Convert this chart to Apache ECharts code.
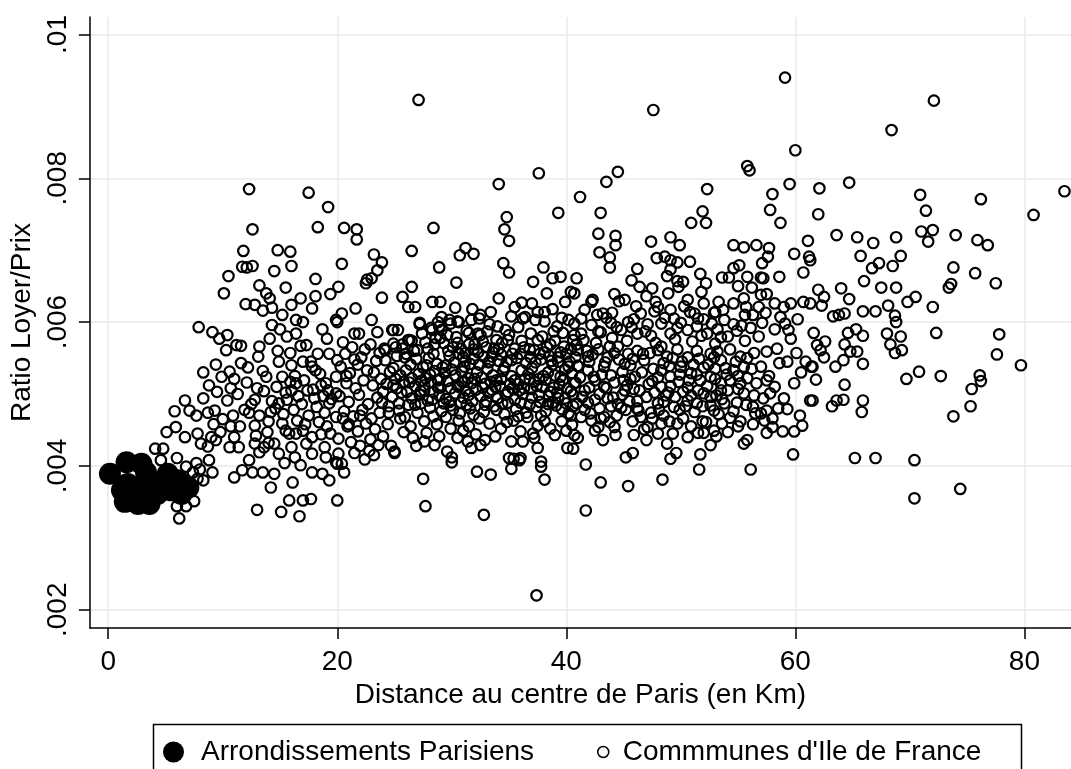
<!DOCTYPE html>
<html>
<head>
<meta charset="utf-8">
<script src="https://cdn.jsdelivr.net/npm/echarts@6/dist/echarts.min.js"></script>
<style>
  html, body { margin: 0; padding: 0; background: #fff; }
  #chart { width: 1071px; height: 769px; }
</style>
</head>
<body>
<div id="chart"></div>
<script>
// ticks
const xTicks = [0, 20, 40, 60, 80];
const yTicks = [.002, .004, .006, .008, .01];

// arrondissements de Paris : [distance km, ratio loyer/prix]
const parisPoints = [
  [0.15,.00389],[1.6,.00405],[2.9,.00403],[1.45,.00350],[2.6,.00347],[3.6,.00347],[1.7,.00375],
  [2.6,.00370],[3.6,.00373],[4.6,.00377],[5.2,.00382],[6.1,.00380],[7.0,.00370],[5.5,.00366],
  [6.4,.00361],[4.3,.00361],[2.0,.00361],[5.2,.00389],[3.3,.00391],[1.2,.00366]
];

// communes d'Ile de France : [distance km, ratio loyer/prix]
const communesPoints = [
  // grandes distances
  [62.1,.00786],[64.7,.00794],[62.0,.00750],[70.9,.00777],[71.4,.00755],[76.2,.00771],[80.8,.00749],[83.5,.00782],
  [63.6,.00721],[65.4,.00718],[66.8,.00710],[68.8,.00718],[71.0,.00726],[72.0,.00728],[71.6,.00712],[74.0,.00721],[75.9,.00714],[76.8,.00707],
  [65.7,.00692],[67.3,.00682],[66.7,.00675],[68.5,.00678],[69.2,.00692],[73.8,.00676],[75.7,.00668],[77.5,.00654],[73.6,.00653],[73.4,.00648],
  [66.0,.00657],[67.5,.00648],[68.8,.00648],[64.0,.00647],[64.7,.00632],[62.0,.00645],[62.5,.00635],[62.3,.00623],[68.1,.00623],[69.8,.00628],[70.5,.00635],[72.0,.00621],
  [65.9,.00615],[67.0,.00615],[63.3,.00608],[63.8,.00610],[64.3,.00612],[68.7,.00609],[68.8,.00600],[72.3,.00585],[77.8,.00583],[77.6,.00555],[79.7,.00540],
  [61.6,.00585],[62.6,.00573],[61.9,.00568],[62.2,.00561],[62.5,.00551],[61.5,.00538],[64.6,.00585],[65.3,.00590],[65.9,.00581],[64.3,.00569],[64.8,.00559],[65.4,.00559],[64.2,.00547],[63.5,.00538],[65.9,.00542],
  [68.0,.00584],[69.2,.00580],[68.3,.00569],[68.7,.00557],[69.3,.00561],[64.3,.00513],[61.5,.00491],[63.2,.00483],[63.6,.00491],[64.2,.00492],[65.9,.00491],[65.8,.00475],
  [69.7,.00521],[70.8,.00531],[72.7,.00525],[76.1,.00526],[76.2,.00518],[75.4,.00507],[75.3,.00483],[73.8,.00469],
  [65.2,.00411],[67.0,.00411],[70.4,.00408],[70.4,.00355],[74.4,.00368],
  // points isoles
  [27.1,.00909],[47.6,.00895],[59.1,.00940],[68.4,.00867],[72.1,.00908],[37.4,.00220],
  // 40 - 62 km
  [60.0,.00839],[55.8,.00817],[56.0,.00811],[44.5,.00809],[43.5,.00795],[41.2,.00774],[52.3,.00785],[59.5,.00792],[58.0,.00778],[57.8,.00756],[58.7,.00738],
  [43.0,.00752],[51.9,.00754],[50.9,.00738],[52.2,.00738],[42.8,.00723],[44.3,.00720],[44.3,.00707],[47.4,.00712],[49.1,.00718],[49.9,.00707],
  [42.9,.00697],[43.8,.00690],[43.8,.00676],[46.2,.00674],[47.9,.00689],[48.6,.00691],[49.1,.00686],[49.7,.00683],[50.8,.00684],
  [48.8,.00664],[49.1,.00673],[49.7,.00657],[49.8,.00649],[51.7,.00667],[52.2,.00654],
  [54.6,.00707],[55.5,.00704],[56.6,.00707],[57.7,.00703],[57.6,.00691],[57.1,.00682],[55.1,.00679],[54.6,.00675],[53.6,.00662],[54.2,.00662],
  [55.8,.00663],[57.0,.00662],[57.2,.00661],[58.6,.00663],[59.9,.00695],[61.1,.00713],[61.2,.00691],[61.3,.00686],[60.7,.00669],
  [56.2,.00648],[57.0,.00638],[57.5,.00639],
  [40.9,.00661],[40.7,.00640],[42.3,.00631],[44.2,.00639],[45.1,.00631],[46.4,.00649],[47.5,.00647],[47.8,.00628],
  [52.0,.00626],[53.0,.00614],[54.6,.00626],[55.5,.00633],[55.7,.00621],[56.3,.00610],[57.4,.00613],
  [59.0,.00621],[59.6,.00626],[60.7,.00628],[61.3,.00626],[58.7,.00607],[59.1,.00598],[59.4,.00589],[59.6,.00577],
  [56.8,.00580],[56.4,.00557],[57.5,.00559],[58.4,.00563],[59.3,.00545],[60.1,.00557],[60.9,.00545],[61.4,.00538],
  [56.2,.00535],[55.8,.00522],[57.0,.00538],[57.5,.00519],[57.7,.00525],[56.4,.00498],[56.3,.00482],[56.5,.00473],[57.5,.00477],[57.0,.00473],
  [59.9,.00515],[59.0,.00494],[61.3,.00491],[57.5,.00446],[59.9,.00448],[59.8,.00416],[56.1,.00395],[55.5,.00431],[55.8,.00436],
  [51.6,.00395],[51.7,.00416],[52.6,.00429],[53.6,.00459],[52.9,.00449],[51.5,.00446],[52.0,.00446],[52.2,.00461],
  [48.4,.00381],[45.4,.00372],[43.0,.00377],[41.7,.00402],[41.7,.00338],
  [45.2,.00412],[45.8,.00418],[48.8,.00431],[49.1,.00410],[49.6,.00418],[49.7,.00459],[48.3,.00459],[47.0,.00436],[47.1,.00454],[47.5,.00466],
  [44.3,.00443],[43.2,.00436],[42.5,.00449],[40.7,.00443],[40.6,.00424],[43.8,.00461],[43.3,.00468],[46.2,.00480],[46.5,.00468],
  [41.6,.00617],[42.2,.00628],[43.2,.00612],
  [40.7,.00598],[41.3,.00584],[42.2,.00596],[43.0,.00586],[43.9,.00599],[44.8,.00589],[45.7,.00593],[46.5,.00612],[47.1,.00597],[46.2,.00584],[47.4,.00581],
  [41.0,.00561],[41.9,.00552],[42.8,.00562],[43.6,.00551],[44.5,.00566],[45.4,.00556],[46.2,.00560],[46.8,.00547],[45.1,.00542],[43.3,.00538],[41.9,.00533],[41.0,.00539],
  [40.7,.00515],[41.6,.00505],[42.5,.00519],[43.3,.00510],[44.2,.00516],[45.1,.00505],[45.9,.00507],[40.9,.00487],[41.9,.00488],[42.9,.00480],[43.9,.00483],[44.8,.00481],
  [44.2,.00454],[42.8,.00454],[42.2,.00463],[40.4,.00470],[41.3,.00468],
  [48.0,.00621],[49.1,.00617],[50.3,.00622],[51.2,.00612],[52.0,.00604],[52.9,.00613],[53.8,.00603],[54.6,.00597],[48.3,.00598],[49.1,.00584],[50.0,.00599],[50.6,.00589],[51.4,.00594],[52.3,.00584],[53.2,.00590],[54.1,.00580],[54.9,.00588],
  [48.0,.00561],[48.8,.00552],[49.7,.00562],[50.6,.00551],[51.4,.00560],[52.6,.00556],[53.5,.00547],[54.3,.00562],[55.2,.00552],[48.3,.00533],[49.1,.00524],[50.0,.00538],[50.9,.00529],[51.7,.00519],[52.6,.00524],[53.5,.00515],[54.3,.00519],[48.3,.00510],[49.1,.00511],
  [48.0,.00487],[49.4,.00482],[50.6,.00491],[51.4,.00487],[52.6,.00496],[53.8,.00487],[54.9,.00488],[52.9,.00477],[54.1,.00505],[55.2,.00515],
  [41.5,.00575],[42.6,.00571],[44.0,.00578],[45.3,.00574],[47.8,.00571],[49.5,.00576],[51.0,.00573],[53.0,.00570],[55.6,.00574],[42.0,.00545],[44.9,.00531],[46.0,.00524],[47.6,.00535],[53.0,.00535],[55.5,.00538],[58.6,.00543],
  [41.4,.00496],[43.6,.00494],[45.5,.00490],[47.0,.00496],[48.7,.00498],[50.2,.00503],[52.0,.00501],[53.1,.00498],[55.0,.00507],[58.2,.00510],[60.5,.00530],[61.8,.00520],
  [42.1,.00473],[44.4,.00470],[45.8,.00462],[48.5,.00470],[50.2,.00466],[51.2,.00475],[53.3,.00472],[55.2,.00462],[58.5,.00480],[60.4,.00470],[49.3,.00445],[50.6,.00440],[54.1,.00447],[55.0,.00455],[58.0,.00454],
  [41.8,.00560],[42.4,.00524],[43.1,.00527],[43.8,.00566],[44.6,.00548],[45.6,.00540],[46.6,.00530],[47.3,.00557],[48.5,.00543],[49.3,.00550],[50.1,.00545],[51.1,.00541],[52.0,.00537],[52.9,.00551],[53.9,.00536],[54.8,.00545],[55.8,.00550],
  [41.2,.00523],[42.0,.00509],[42.9,.00500],[43.9,.00526],[44.9,.00499],[45.6,.00521],[46.4,.00505],[47.2,.00514],[48.0,.00523],[48.9,.00502],[49.8,.00517],[50.6,.00509],[51.4,.00527],[52.3,.00511],[53.0,.00521],[54.6,.00533],[55.5,.00501],[56.6,.00515],[57.8,.00501],
  [41.6,.00478],[43.0,.00466],[44.1,.00495],[45.2,.00478],[46.2,.00490],[47.4,.00474],[48.1,.00478],[49.9,.00478],[50.9,.00498],[51.9,.00483],[53.6,.00493],[54.6,.00476],[55.7,.00485],[57.2,.00494],[58.0,.00466],[59.3,.00479],
  [41.3,.00605],[42.8,.00587],[43.5,.00606],[44.4,.00593],[45.4,.00600],[46.9,.00587],[48.6,.00606],[49.7,.00592],[50.8,.00614],[51.8,.00581],[52.7,.00598],[53.5,.00579],[55.3,.00595],[56.1,.00592],[57.1,.00599],[58.2,.00590],[60.2,.00604],
  [45.9,.00443],[46.8,.00451],[48.0,.00445],[49.0,.00462],[50.9,.00455],[51.9,.00462],[53.1,.00441],[54.3,.00467],[56.3,.00458],[57.3,.00463],[58.9,.00448],[60.6,.00456],
  [44.6,.00629],[46.1,.00622],[47.0,.00636],[48.9,.00640],[50.6,.00631],[51.8,.00642],[53.3,.00628],[56.8,.00621],[58.2,.00626],[55.0,.00650],[50.2,.00656],[45.7,.00658],
  [42.3,.00555],[43.4,.00544],[44.2,.00557],[45.0,.00519],[45.8,.00549],[46.7,.00556],[47.5,.00518],[48.3,.00566],[49.0,.00539],[49.9,.00527],[50.7,.00519],[51.6,.00549],[52.4,.00541],[53.2,.00559],[54.0,.00527],[55.0,.00525],
  [42.5,.00492],[43.5,.00508],[44.5,.00486],[45.3,.00512],[46.3,.00477],[47.7,.00502],[48.5,.00489],[49.5,.00496],[50.4,.00483],[51.5,.00505],[52.6,.00484],[53.5,.00505],
  [42.7,.00610],[44.0,.00613],[45.9,.00604],[47.7,.00615],[49.4,.00605],[51.5,.00605],[53.7,.00617],[55.6,.00610],
  // 20 - 41 km
  [37.6,.00807],[34.1,.00792],[39.3,.00752],[34.8,.00746],[34.6,.00729],[35.0,.00713],[20.6,.00731],[21.7,.00729],[21.7,.00715],[28.4,.00731],[26.5,.00699],
  [31.2,.00703],[30.7,.00693],[31.9,.00695],[23.2,.00694],[23.9,.00683],[23.5,.00672],[23.0,.00661],[22.5,.00654],[22.6,.00659],[20.4,.00681],[28.9,.00676],[30.4,.00655],
  [34.5,.00682],[35.0,.00669],[38.0,.00676],[37.1,.00656],[38.8,.00661],[39.5,.00663],[38.3,.00640],[40.4,.00642],[39.9,.00628],
  [20.1,.00649],[26.5,.00649],[25.7,.00635],[26.2,.00621],[26.8,.00621],[23.9,.00634],[28.3,.00628],[29.0,.00628],
  [34.1,.00633],[35.5,.00621],[36.1,.00627],[37.0,.00626],[36.4,.00607],[37.5,.00614],[38.1,.00614],
  [20.4,.00612],[20.0,.00600],[21.6,.00619],[23.0,.00603],[23.5,.00586],[24.9,.00589],[21.5,.00584],[21.9,.00584],[20.7,.00556],[20.0,.00547],
  [27.2,.00597],[28.3,.00589],[28.8,.00600],[29.1,.00607],[29.9,.00598],[30.6,.00600],[32.5,.00610],[32.3,.00584],[29.1,.00589],
  [26.5,.00574],[24.9,.00570],[24.2,.00561],[25.7,.00563],
  [20.1,.00417],[19.9,.00405],[20.4,.00403],[20.6,.00391],[23.2,.00415],[25.0,.00418],[27.5,.00382],[27.7,.00344],[30.0,.00412],[30.0,.00405],
  [32.2,.00392],[33.4,.00388],[32.8,.00332],[35.4,.00410],[35.2,.00396],[35.9,.00408],[37.8,.00399],[38.1,.00381],[20.0,.00352],
  [27.2,.00599],[28.2,.00592],[28.9,.00594],[29.8,.00603],[30.5,.00601],[31.7,.00603],[32.4,.00605],[24.8,.00589],[26.3,.00575],[33.1,.00587],[34.0,.00594],
  [35.0,.00582],[36.2,.00605],[37.3,.00603],[38.1,.00601],[38.9,.00587],[39.7,.00585],[40.2,.00603],[40.7,.00582],[32.5,.00582],[33.9,.00575],
  [24.1,.00563],[25.1,.00565],[25.7,.00569],[26.7,.00560],[27.9,.00563],[28.5,.00569],[29.3,.00571],[30.1,.00565],[30.8,.00563],[31.5,.00569],[32.3,.00558],
  [33.0,.00565],[33.7,.00563],[34.4,.00571],[35.5,.00563],[36.3,.00565],[37.2,.00561],[38.1,.00558],[38.6,.00569],[39.5,.00558],[40.4,.00563],[40.9,.00569],
  [24.2,.00547],[24.9,.00536],[25.9,.00551],[26.4,.00541],[27.5,.00537],[28.0,.00550],[28.7,.00542],[29.8,.00553],[30.2,.00544],[31.1,.00538],[31.9,.00549],
  [32.4,.00541],[33.5,.00552],[34.1,.00546],[34.6,.00537],[35.7,.00550],[36.5,.00543],[37.0,.00536],[37.8,.00548],[38.8,.00541],[39.3,.00551],[40.3,.00545],[41.0,.00539],
  [24.6,.00531],[25.5,.00526],[26.0,.00533],[27.1,.00528],[27.7,.00522],[28.5,.00532],[29.4,.00529],[30.0,.00534],[30.9,.00531],[31.4,.00522],[32.2,.00530],
  [33.1,.00535],[33.6,.00526],[34.5,.00532],[35.2,.00525],[36.1,.00533],[36.7,.00528],[37.6,.00521],[38.4,.00530],[39.0,.00526],[39.9,.00534],[40.5,.00529],
  [24.3,.00514],[25.2,.00508],[25.8,.00517],[26.8,.00511],[27.3,.00504],[28.2,.00516],[28.8,.00509],[29.6,.00518],[30.5,.00512],[31.2,.00505],[31.7,.00515],
  [32.7,.00509],[33.4,.00517],[34.2,.00511],[34.9,.00503],[35.8,.00514],[36.3,.00508],[37.2,.00517],[37.9,.00510],[38.6,.00503],[39.4,.00513],[40.1,.00508],[40.8,.00516],
  [24.8,.00496],[25.6,.00502],[26.5,.00494],[27.2,.00499],[27.9,.00491],[28.9,.00498],[29.5,.00493],[30.3,.00501],[31.0,.00495],[31.8,.00490],[32.5,.00497],
  [33.2,.00502],[34.0,.00494],[34.7,.00499],[35.5,.00492],[36.2,.00500],[37.0,.00495],[37.7,.00489],[38.5,.00497],[39.2,.00502],[39.9,.00494],[40.6,.00499],
  [24.5,.00483],[25.4,.00477],[26.2,.00485],[27.0,.00474],[28.1,.00481],[29.1,.00476],[29.9,.00484],[30.7,.00473],[31.6,.00480],[32.8,.00475],[33.7,.00483],
  [34.6,.00472],[35.6,.00479],[36.5,.00474],[37.4,.00482],[38.2,.00476],[39.1,.00484],[40.2,.00473],
  [24.4,.00458],[25.5,.00466],[26.4,.00455],[27.6,.00462],[28.7,.00458],[29.5,.00468],[30.6,.00463],[31.5,.00455],[32.4,.00466],[33.3,.00459],[34.3,.00452],
  [35.4,.00463],[36.6,.00468],[37.5,.00456],[38.6,.00452],[39.6,.00462],[40.5,.00457],
  [25.0,.00420],[26.6,.00439],[27.6,.00434],[28.5,.00429],[29.6,.00420],[30.5,.00439],[31.4,.00434],[31.7,.00425],[32.5,.00429],[32.9,.00436],
  [35.2,.00434],[36.2,.00434],[37.2,.00439],[37.5,.00425],[35.0,.00411],[36.0,.00411],[37.8,.00406],[40.1,.00425],[41.0,.00439],
  [20.3,.00538],[21.1,.00529],[21.8,.00541],[22.6,.00533],[23.4,.00546],[20.8,.00515],[21.6,.00508],[22.3,.00519],[23.1,.00512],[23.8,.00521],
  [20.2,.00497],[21.0,.00489],[21.9,.00499],[22.7,.00486],[23.5,.00495],[20.6,.00476],[21.4,.00469],[22.2,.00478],[23.0,.00466],[23.7,.00474],
  [20.9,.00455],[21.8,.00448],[22.5,.00459],[23.3,.00451],[21.2,.00433],[22.0,.00428],[22.9,.00437],[23.6,.00429],[21.5,.00418],[22.4,.00409],
  [20.5,.00572],[21.3,.00565],[22.1,.00551],[22.9,.00569],[23.7,.00557],[21.0,.00458],[22.8,.00421],[24.0,.00441],[24.7,.00428],[25.8,.00447],[26.9,.00428],[27.8,.00446],[28.9,.00441],[29.9,.00452],
  [25.3,.00589],[26.0,.00556],[27.4,.00584],[28.6,.00578],[29.6,.00582],[30.4,.00579],[31.3,.00588],[25.1,.00521],[26.3,.00516],[27.6,.00512],[28.4,.00503],[29.0,.00521],[29.9,.00508],
  [24.5,.00474],[25.9,.00468],[27.3,.00487],[28.4,.00469],[29.3,.00487],[30.1,.00478],[26.1,.00503],[27.8,.00540],[29.2,.00537],[30.6,.00556],[31.2,.00546],[25.2,.00553],[26.9,.00549],
  [30.9,.00517],[31.5,.00499],[32.0,.00521],[32.9,.00514],[33.5,.00506],[34.3,.00521],[35.1,.00514],[35.9,.00505],[36.8,.00520],[37.4,.00511],[38.2,.00520],[38.9,.00509],[39.7,.00519],[40.4,.00504],
  [31.2,.00557],[32.0,.00569],[32.8,.00552],[33.6,.00558],[34.3,.00555],[35.2,.00547],[36.0,.00556],[36.9,.00551],[37.7,.00556],[38.5,.00553],[39.3,.00545],[40.0,.00556],[40.8,.00551],
  [30.8,.00488],[31.9,.00471],[33.0,.00490],[33.9,.00478],[34.9,.00488],[35.8,.00469],[36.8,.00485],[37.8,.00470],[38.8,.00488],[39.6,.00479],[40.6,.00483],
  [31.0,.00449],[32.1,.00444],[33.8,.00441],[34.8,.00461],[36.0,.00448],[37.1,.00445],[38.1,.00462],[39.0,.00443],[40.0,.00449],
  [31.5,.00585],[33.3,.00597],[34.7,.00589],[35.8,.00593],[36.9,.00584],[37.9,.00580],[39.2,.00594],[30.3,.00620],[31.8,.00618],[33.4,.00614],[35.2,.00608],[38.8,.00618],[39.6,.00606],
  [26.2,.00575],[27.0,.00561],[27.7,.00572],[28.4,.00556],[29.0,.00578],[29.7,.00560],[30.5,.00571],[31.0,.00551],[31.9,.00562],[32.7,.00573],[33.3,.00545],
  [34.1,.00563],[34.9,.00575],[35.3,.00556],[36.1,.00574],[36.8,.00562],[37.5,.00575],[38.3,.00565],[39.0,.00574],[39.8,.00566],[40.6,.00575],
  [26.5,.00522],[27.3,.00518],[28.1,.00527],[28.8,.00519],[29.5,.00540],[30.3,.00526],[31.1,.00517],[31.6,.00542],[32.6,.00523],[33.2,.00544],
  [33.9,.00519],[34.8,.00545],[35.5,.00519],[36.4,.00521],[37.3,.00544],[38.0,.00525],[38.7,.00546],[39.5,.00524],[40.2,.00538],
  [26.8,.00485],[27.6,.00505],[28.3,.00492],[29.0,.00509],[29.8,.00489],[30.6,.00510],[31.3,.00485],[32.1,.00506],[32.9,.00485],
  [33.8,.00510],[34.4,.00487],[35.3,.00508],[36.0,.00488],[36.9,.00507],[37.6,.00499],[38.4,.00486],[39.3,.00494],[40.0,.00487],
  [20.8,.00525],[21.5,.00548],[22.4,.00562],[23.2,.00530],[24.0,.00503],[24.9,.00512],[25.4,.00487],[23.9,.00488],[22.0,.00470],[20.5,.00466],
  // 0 - 20 km
  [12.3,.00785],[17.5,.00780],[19.2,.00760],[12.6,.00729],[18.3,.00732],[11.8,.00699],[14.8,.00700],[15.9,.00698],[16.0,.00678],[11.7,.00677],[12.1,.00676],
  [12.6,.00678],[14.5,.00671],[10.5,.00664],[18.1,.00660],[10.1,.00640],[13.2,.00651],[13.8,.00640],[14.1,.00633],[15.5,.00648],[16.8,.00633],[18.1,.00636],[17.8,.00619],[19.4,.00639],
  [12.0,.00625],[12.8,.00624],[13.5,.00616],[14.3,.00620],[15.2,.00610],[16.0,.00624],[16.4,.00603],[16.4,.00584],[14.3,.00596],[14.1,.00577],[13.2,.00566],[13.1,.00552],[13.5,.00532],[19.1,.00577],[16.8,.00567],
  [15.9,.00557],[14.9,.00545],[15.2,.00524],[15.9,.00517],[16.4,.00515],[17.0,.00545],[17.7,.00545],[18.1,.00533],[18.5,.00528],[19.0,.00515],[17.4,.00505],[17.8,.00538],
  [7.9,.00593],[9.1,.00586],[9.7,.00577],[10.4,.00582],[10.3,.00561],[11.2,.00568],[11.6,.00567],[11.6,.00543],[9.4,.00541],[8.3,.00530],[9.9,.00524],[10.6,.00531],
  [13.6,.00504],[14.3,.00490],[14.9,.00487],[14.6,.00480],[14.2,.00475],[11.3,.00500],[10.4,.00491],[12.3,.00474],[12.8,.00456],[10.7,.00455],[11.5,.00455],
  [8.3,.00494],[6.7,.00491],[5.8,.00476],[7.1,.00477],[8.7,.00474],[9.3,.00477],[7.7,.00470],[5.1,.00447],[5.9,.00454],[6.7,.00440],[7.8,.00445],[9.4,.00436],[8.7,.00427],[8.1,.00431],[9.0,.00440],
  [4.1,.00424],[4.8,.00424],[4.6,.00408],[6.0,.00411],[6.8,.00399],[7.7,.00404],[8.0,.00395],[7.4,.00391],[8.8,.00408],[9.1,.00391],[8.3,.00380],[7.8,.00382],[11.0,.00384],
  [6.0,.00344],[6.8,.00344],[7.5,.00351],[6.2,.00327],
  [10.6,.00426],[11.4,.00426],[12.8,.00431],[13.6,.00426],[14.5,.00431],[14.9,.00417],[15.5,.00449],[16.4,.00445],[17.0,.00449],[17.8,.00440],[18.6,.00444],[19.4,.00445],[20.1,.00438],
  [12.3,.00408],[11.7,.00394],[12.6,.00391],[13.5,.00391],[14.5,.00389],[16.1,.00377],[16.8,.00401],[17.8,.00417],[17.8,.00391],[18.7,.00389],[19.3,.00380],[20.0,.00403],
  [13.0,.00339],[14.2,.00370],[15.1,.00336],[15.8,.00352],[16.7,.00330],[17.0,.00352],[17.7,.00354],
  [19.3,.00556],[19.9,.00524],[19.9,.00501],[19.3,.00487],[19.9,.00468],[15.2,.00459],[15.8,.00445],[19.9,.00603],
  [15.6,.00492],[16.2,.00478],[16.9,.00486],[17.5,.00470],[18.2,.00482],[18.9,.00474],[16.5,.00463],[17.2,.00458],[18.4,.00461],[19.1,.00455],
  [15.3,.00472],[14.0,.00462],[13.2,.00470],[12.5,.00486],[11.9,.00478],[16.0,.00505],[18.8,.00497],[17.9,.00506],[16.3,.00525],[18.6,.00512],
  [19.5,.00493],[12.9,.00442],[13.9,.00447],[11.0,.00440],[9.8,.00447],[10.0,.00465],[10.9,.00470],[9.2,.00458],
  [13.8,.00524],[14.7,.00510],[15.5,.00502],[13.0,.00508],[12.1,.00516],[11.0,.00521],[12.2,.00537],[10.7,.00508],[9.5,.00503],[8.8,.00512],[12.8,.00492],[17.1,.00519],[18.0,.00494],[19.2,.00505],[16.6,.00497],
  [17.3,.00431],[18.9,.00426],[16.0,.00426],[14.0,.00432],[13.2,.00419],[16.3,.00412],[15.4,.00404],[19.0,.00412],
  [14.8,.00560],[15.6,.00580],[17.3,.00568],[18.3,.00556],[16.0,.00540],[18.7,.00590],[17.0,.00600],[15.0,.00590]
];

const FONT = "'Liberation Sans', Arial, Helvetica, sans-serif";

function fmtRatio(v) {
  // style Stata : .002, .004 ... .01
  return String(parseFloat(v.toFixed(4))).replace(/^0\./, '.');
}

const chart = echarts.init(document.getElementById('chart'), null, { renderer: 'canvas' });

const option = {
  backgroundColor: '#fff',
  animation: false,
  textStyle: { fontFamily: FONT, color: '#000' },
  grid: { left: 88, right: 0, top: 17, bottom: 141, containLabel: false },
  xAxis: {
    type: 'value',
    min: -1.6,
    max: 84.07,
    name: 'Distance au centre de Paris (en Km)',
    nameLocation: 'middle',
    nameGap: 48,
    nameTextStyle: { fontSize: 28, color: '#000', fontFamily: FONT },
    axisLine: { onZero: false, lineStyle: { color: '#000', width: 1.5 } },
    axisTick: { show: true, length: 11, customValues: xTicks, lineStyle: { color: '#000', width: 1.5 } },
    axisLabel: { customValues: xTicks, fontSize: 28, color: '#000', margin: 20, fontFamily: FONT },
    splitLine: { show: true, lineStyle: { color: '#eaeaea', width: 1.5 } }
  },
  yAxis: {
    type: 'value',
    min: .001746,
    max: .010243,
    name: 'Ratio Loyer/Prix',
    nameLocation: 'middle',
    nameGap: 52,
    nameRotate: 90,
    nameTextStyle: { fontSize: 28, color: '#000', fontFamily: FONT },
    axisLine: { show: true, onZero: false, lineStyle: { color: '#000', width: 1.5 } },
    axisTick: { show: true, length: 11, customValues: yTicks, lineStyle: { color: '#000', width: 1.5 } },
    axisLabel: { customValues: yTicks, rotate: 90, fontSize: 28, color: '#000', margin: 18, fontFamily: FONT,
      formatter: fmtRatio },
    splitLine: { show: true, lineStyle: { color: '#eaeaea', width: 1.5 } }
  },
  legend: [{
    data: ['Arrondissements Parisiens'],
    left: 163,
    top: 738,
    padding: 0,
    icon: 'circle',
    itemWidth: 21,
    itemHeight: 21,
    itemStyle: { opacity: 1 },
    textStyle: { fontSize: 28, color: '#000', fontFamily: FONT, padding: [0, 0, 0, 12] }
  }, {
    data: ["Commmunes d'Ile de France"],
    left: 597,
    top: 738,
    padding: 0,
    icon: 'circle',
    itemWidth: 11,
    itemHeight: 11,
    itemStyle: { color: 'rgba(0,0,0,0)', borderColor: '#000', borderWidth: 1.5, opacity: 1 },
    textStyle: { fontSize: 28, color: '#000', fontFamily: FONT, padding: [0, 0, 0, 9] }
  }],
  graphic: [{
    type: 'rect',
    left: 151,
    top: 722,
    shape: { width: 868, height: 90 },
    style: { fill: 'none', stroke: '#000', lineWidth: 1.5 },
    silent: true
  }],
  series: [{
    name: "Commmunes d'Ile de France",
    type: 'scatter',
    symbol: 'circle',
    symbolSize: 10.5,
    itemStyle: { color: 'rgba(0,0,0,0)', borderColor: '#000', borderWidth: 2.2, opacity: 1 },
    emphasis: { disabled: true },
    data: communesPoints
  }, {
    name: 'Arrondissements Parisiens',
    type: 'scatter',
    symbol: 'circle',
    symbolSize: 22,
    itemStyle: { color: '#000', opacity: 1 },
    emphasis: { disabled: true },
    data: parisPoints
  }]
};

chart.setOption(option);
</script>
</body>
</html>
